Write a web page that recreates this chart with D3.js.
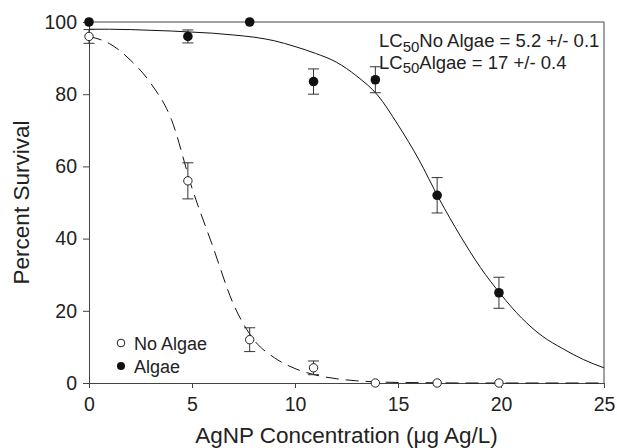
<!DOCTYPE html>
<html>
<head>
<meta charset="utf-8">
<script src="https://cdn.jsdelivr.net/npm/d3@7"></script>
<style>
body { margin: 0; background: #fff; }
svg { font-family: "Liberation Sans", Arial, sans-serif; }
</style>
</head>
<body>
<svg id="chart"></svg>
<script>
// measured points
var conc = [0, 4.8, 7.8, 10.9, 13.9, 16.9, 19.9];
var algae = [100, 96, 100, 83.5, 84, 52, 25];
var algaeErr = [0, 1.8, 0, 3.5, 3.6, 4.9, 4.3];
var noAlgae = [96, 56, 12, 4.2, 0, 0, 0];
var noAlgaeErr = [1.9, 5, 3.3, 1.9, 0, 0, 0];

// fitted curves
var fitX = [0, 1, 2, 3, 4, 5, 6, 7, 8, 9, 10, 11, 12, 13, 14, 15, 16, 17, 18, 19, 20, 21, 22, 23, 24, 25];
var algaeFit = [98, 98, 97.9, 97.7, 97.5, 97.2, 96.9, 96.4, 95.8, 94.8, 93.2, 91.3, 88.9, 85, 79.8, 71.5, 62, 51, 41, 32, 24.5, 18, 13, 9.5, 6.5, 4.2];
var noAlgaeFit = [96, 94, 89.5, 83, 73, 54, 38, 22, 12, 7, 4, 2.2, 1.2, 0.6, 0.3, 0.15, 0.1, 0.05, 0, 0, 0, 0, 0, 0, 0, 0];

var xTicks = [0, 5, 10, 15, 20, 25];
var yTicks = [0, 20, 40, 60, 80, 100];

var screen = {width: 617, height: 448};
var margin = {left: 89, top: 22, right: 13, bottom: 65};

var svg = d3.select("#chart")
    .attr("width", screen.width)
    .attr("height", screen.height);

var xScale = d3.scaleLinear()
    .domain([0, 25])
    .range([margin.left, screen.width - margin.right]);
var yScale = d3.scaleLinear()
    .domain([0, 100])
    .range([screen.height - margin.bottom, margin.top]);

var axisColor = "#444";

// frame (top and right)
svg.append("path")
    .attr("d", "M" + xScale(0) + "," + yScale(100) + "H" + xScale(25) + "V" + yScale(0))
    .attr("fill", "none")
    .attr("stroke", axisColor)
    .attr("stroke-width", 1);

var xAxis = svg.append("g")
    .attr("transform", "translate(0," + yScale(0) + ")")
    .call(d3.axisBottom(xScale).tickValues(xTicks).tickSize(5).tickPadding(9).tickSizeOuter(0));
var yAxis = svg.append("g")
    .attr("transform", "translate(" + xScale(0) + ",0)")
    .call(d3.axisLeft(yScale).tickValues(yTicks).tickSize(6).tickPadding(6).tickSizeOuter(0));

[xAxis, yAxis].forEach(function(ax)
{
    ax.select(".domain").attr("stroke", axisColor);
    ax.selectAll(".tick line").attr("stroke", axisColor);
    ax.selectAll(".tick text")
        .attr("fill", "#222")
        .style("font-size", "19.5px")
        .style("font-family", "'Liberation Sans', Arial, sans-serif");
});

// axis titles
svg.append("text")
    .attr("x", (xScale(0) + xScale(25)) / 2)
    .attr("y", 443)
    .attr("text-anchor", "middle")
    .attr("fill", "#222")
    .style("font-size", "22.5px")
    .text("AgNP Concentration (\u03bcg Ag/L)");

svg.append("text")
    .attr("transform", "translate(29," + (yScale(50)) + ") rotate(-90)")
    .attr("text-anchor", "middle")
    .attr("fill", "#222")
    .style("font-size", "22.5px")
    .text("Percent Survival");

// curves
var line = d3.line()
    .x(function(d) { return xScale(d[0]); })
    .y(function(d) { return yScale(d[1]); })
    .curve(d3.curveMonotoneX);

svg.append("path")
    .datum(fitX.map(function(x, i) { return [x, algaeFit[i]]; }))
    .attr("d", line)
    .attr("fill", "none")
    .attr("stroke", "#111")
    .attr("stroke-width", 1);

svg.append("path")
    .datum(fitX.map(function(x, i) { return [x, noAlgaeFit[i]]; }))
    .attr("d", line)
    .attr("fill", "none")
    .attr("stroke", "#111")
    .attr("stroke-width", 1)
    .attr("stroke-dasharray", "13,7");

// error bars
var drawErr = function(vals, errs)
{
    var pts = conc.map(function(x, i) { return {x: x, y: vals[i], e: errs[i]}; })
        .filter(function(p) { return p.e > 0; });
    var g = svg.append("g")
        .attr("stroke", "#333")
        .attr("stroke-width", 1);
    pts.forEach(function(p)
    {
        var cx = xScale(p.x);
        var y1 = yScale(p.y + p.e);
        var y2 = yScale(p.y - p.e);
        g.append("line").attr("x1", cx).attr("x2", cx).attr("y1", y1).attr("y2", y2);
        g.append("line").attr("x1", cx - 5.5).attr("x2", cx + 5.5).attr("y1", y1).attr("y2", y1);
        g.append("line").attr("x1", cx - 5.5).attr("x2", cx + 5.5).attr("y1", y2).attr("y2", y2);
    });
}
drawErr(algae, algaeErr);
drawErr(noAlgae, noAlgaeErr);

// points
svg.append("g")
    .selectAll("circle")
    .data(conc.map(function(x, i) { return {x: x, y: noAlgae[i]}; }))
    .enter()
    .append("circle")
    .attr("cx", function(p) { return xScale(p.x); })
    .attr("cy", function(p) { return yScale(p.y); })
    .attr("r", 4.2)
    .attr("fill", "#fff")
    .attr("stroke", "#222")
    .attr("stroke-width", 1);

svg.append("g")
    .selectAll("circle")
    .data(conc.map(function(x, i) { return {x: x, y: algae[i]}; }))
    .enter()
    .append("circle")
    .attr("cx", function(p) { return xScale(p.x); })
    .attr("cy", function(p) { return yScale(p.y); })
    .attr("r", 4.8)
    .attr("fill", "#111");

// legend
var legend = svg.append("g").style("font-size", "18px").attr("fill", "#222");
legend.append("circle").attr("cx", 121).attr("cy", 343).attr("r", 3.8)
    .attr("fill", "#fff").attr("stroke", "#222").attr("stroke-width", 1);
legend.append("text").attr("x", 134).attr("y", 349.5).text("No Algae");
legend.append("circle").attr("cx", 121).attr("cy", 366).attr("r", 4).attr("fill", "#111");
legend.append("text").attr("x", 134).attr("y", 372.5).text("Algae");

// LC50 notes
var notes = [["No Algae = 5.2 +/- 0.1", 47], ["Algae = 17 +/- 0.4", 68.5]];
notes.forEach(function(n)
{
    var t = svg.append("text")
        .attr("x", 379)
        .attr("y", n[1])
        .attr("fill", "#222")
        .style("font-size", "18.5px");
    t.append("tspan").text("LC");
    t.append("tspan").attr("dy", 4.5).style("font-size", "15px").text("50");
    t.append("tspan").attr("dy", -4.5).text(n[0]);
});
</script>
</body>
</html>
